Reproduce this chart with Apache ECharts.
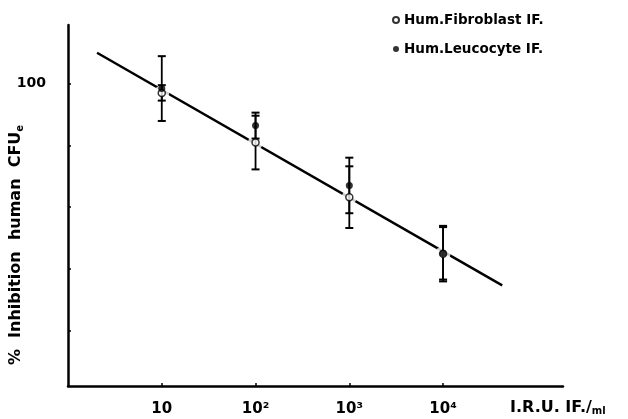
<!DOCTYPE html>
<html>
<head>
<meta charset="utf-8">
<script src="https://cdn.jsdelivr.net/npm/echarts@6/dist/echarts.min.js"></script>
<style>
  html, body { margin: 0; padding: 0; background: #fff; }
  #chart { width: 628px; height: 419px; }
</style>
</head>
<body>
<div id="chart"></div>
<script>
// dose (I.R.U. IF./ml) for each measured group
var doses = [10, 100, 1000, 10000];
// % inhibition, mean and half error bar
var fibroblastMean = [97, 80.9, 63.2, 44.9];
var fibroblastErr = [2.5, 8.7, 10, 9];
var leucocyteMean = [98.4, 86.4, 67, 45];
var leucocyteErr = [10.5, 4.2, 9, 8.5];
// regression line end points
var fitX = [2.04, 42700];
var fitY = [110, 34.6];
// axis ticks
var xTicks = [10, 100, 1000, 10000];
var xTickLabels = ['10', '10²', '10³', '10⁴'];
var yTicks = [20, 40, 60, 80, 100];
var yLabelTicks = [100];

var font = 'DejaVu Sans';

function pairs(xs, ys) {
  return xs.map(function (x, i) { return [x, ys[i]]; });
}
function bars(xs, mean, err) {
  return xs.map(function (x, i) { return [x, mean[i] - err[i], mean[i] + err[i]]; });
}

// vertical error bar with caps
function errRender(params, api) {
  var x = api.value(0);
  var top = api.coord([x, api.value(2)]);
  var bot = api.coord([x, api.value(1)]);
  var w = 4;
  return {
    type: 'group',
    children: [
      { type: 'line', shape: { x1: top[0], y1: top[1], x2: bot[0], y2: bot[1] }, style: { stroke: '#000', lineWidth: 1.8 } },
      { type: 'line', shape: { x1: top[0] - w, y1: top[1], x2: top[0] + w, y2: top[1] }, style: { stroke: '#000', lineWidth: 2 } },
      { type: 'line', shape: { x1: bot[0] - w, y1: bot[1], x2: bot[0] + w, y2: bot[1] }, style: { stroke: '#000', lineWidth: 2 } }
    ]
  };
}

var chart = echarts.init(document.getElementById('chart'));
chart.setOption({
  backgroundColor: '#fff',
  animation: false,
  textStyle: { fontFamily: font, fontWeight: 'bold', color: '#000' },
  grid: { left: 68, right: 65, top: 25, bottom: 33 },
  legend: {
    data: ['Hum.Fibroblast IF.', 'Hum.Leucocyte IF.'],
    orient: 'vertical',
    left: 387,
    top: 8,
    itemGap: 15,
    itemWidth: 6,
    itemHeight: 6,
    textStyle: { fontFamily: font, fontWeight: 'bold', fontSize: 13.5, color: '#000' }
  },
  xAxis: {
    type: 'log',
    logBase: 10,
    min: 1,
    max: 190000,
    axisLine: { lineStyle: { color: '#000', width: 2.5 } },
    axisTick: { inside: true, length: 3, customValues: xTicks, lineStyle: { color: '#000', width: 1.5 } },
    minorTick: { show: false },
    splitLine: { show: false },
    axisLabel: {
      customValues: xTicks,
      margin: 16,
      fontFamily: font,
      fontWeight: 'bold',
      fontSize: 15,
      color: '#000',
      formatter: function (v) { return xTickLabels[xTicks.indexOf(Math.round(v))] || ''; }
    }
  },
  yAxis: {
    type: 'value',
    min: 2,
    max: 119,
    axisLine: { show: true, lineStyle: { color: '#000', width: 2.5 } },
    axisTick: { show: true, inside: true, length: 3, customValues: yTicks, lineStyle: { color: '#000', width: 1.5 } },
    splitLine: { show: false },
    axisLabel: {
      customValues: yLabelTicks,
      margin: 22,
      padding: [6, 0, 0, 0],
      fontFamily: font,
      fontWeight: 'bold',
      fontSize: 14,
      color: '#000'
    }
  },
  graphic: [
    {
      type: 'text',
      x: 16,
      y: 245,
      rotation: Math.PI / 2,
      style: {
        text: '%  Inhibition  human  CFU{sub|e}',
        fontFamily: font,
        fontWeight: 'bold',
        fontSize: 16,
        fill: '#000',
        align: 'center',
        verticalAlign: 'middle',
        rich: { sub: { fontSize: 10, fontWeight: 'bold', fontFamily: font, padding: [9, 0, 0, 0] } }
      }
    },
    {
      type: 'text',
      x: 510,
      y: 399,
      style: {
        text: 'I.R.U. IF./{sub|ml}',
        fontFamily: font,
        fontWeight: 'bold',
        fontSize: 16,
        fill: '#000',
        rich: { sub: { fontSize: 10, fontWeight: 'bold', fontFamily: font, padding: [7, 0, 0, 0] } }
      }
    }
  ],
  series: [
    {
      name: 'fit',
      type: 'line',
      data: pairs(fitX, fitY),
      symbol: 'none',
      lineStyle: { color: '#000', width: 2.5 },
      z: 1
    },
    {
      // white gap in the fitted line round each point
      name: 'halo',
      type: 'scatter',
      data: pairs(doses, fibroblastMean),
      symbol: 'circle',
      symbolSize: 15,
      itemStyle: { color: '#fff' },
      silent: true,
      z: 2
    },
    {
      name: 'Leucocyte error',
      type: 'custom',
      renderItem: errRender,
      encode: { x: 0, y: [1, 2] },
      data: bars(doses, leucocyteMean, leucocyteErr),
      z: 3
    },
    {
      name: 'Fibroblast error',
      type: 'custom',
      renderItem: errRender,
      encode: { x: 0, y: [1, 2] },
      data: bars(doses, fibroblastMean, fibroblastErr),
      z: 3
    },
    {
      name: 'Hum.Fibroblast IF.',
      type: 'scatter',
      data: pairs(doses, fibroblastMean),
      symbol: 'circle',
      symbolSize: 7,
      itemStyle: { color: '#fff', borderColor: '#000', borderWidth: 1.5 },
      z: 4
    },
    {
      name: 'Hum.Leucocyte IF.',
      type: 'scatter',
      data: pairs(doses, leucocyteMean),
      symbol: 'circle',
      symbolSize: 7,
      itemStyle: { color: '#000' },
      z: 5
    }
  ]
});
</script>
</body>
</html>
